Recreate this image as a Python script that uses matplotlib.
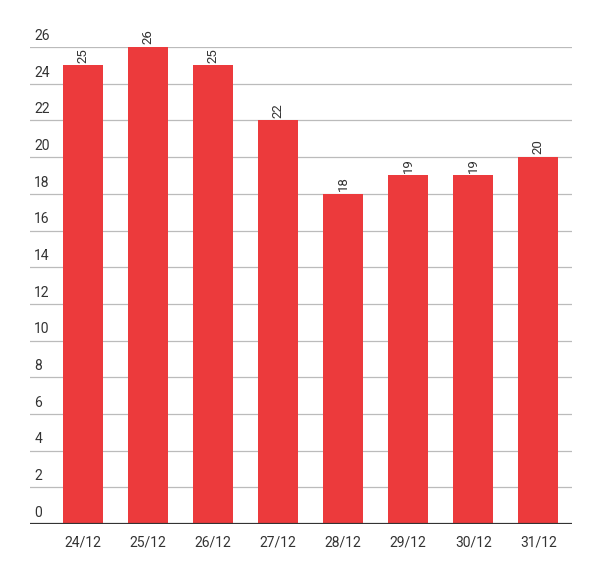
import matplotlib.pyplot as plt
from matplotlib.transforms import blended_transform_factory, offset_copy

plt.rcParams["font.family"] = ["Roboto", "DejaVu Sans"]

dates = ["24/12", "25/12", "26/12", "27/12", "28/12", "29/12", "30/12", "31/12"]
values = [25, 26, 25, 22, 18, 19, 19, 20]
yticks = list(range(0, 27, 2))

RED = "#EC3A3C"
TEXT = "#333333"

fig = plt.figure(figsize=(6.03, 5.67), dpi=100)
ax = fig.add_axes([0.0498, 0.0758, 0.899, 0.8412])

xs = list(range(len(dates)))
ax.bar(xs, values, width=0.62, color=RED, zorder=2)
ax.set_xlim(-0.815, 7.52)
ax.set_ylim(0, 26)

for y in yticks[1:]:
    ax.axhline(y, color="#BBBBBB", lw=0.9, zorder=1)
ax.axhline(0, color="#333333", lw=1.6, zorder=3)

trans = offset_copy(blended_transform_factory(ax.transAxes, ax.transData), fig=fig, x=3, y=3, units="points")
for y in yticks:
    ax.text(0, y, str(y), transform=trans, ha="left", va="bottom", fontsize=10, color=TEXT)

for x, v in zip(xs, values):
    ax.annotate(str(v), (x, v), xytext=(0, 2), textcoords="offset points", rotation=90,
                ha="center", va="bottom", fontsize=9.5, color=TEXT, annotation_clip=False)

ax.set_xticks(xs)
ax.set_xticklabels(dates, fontsize=10, color=TEXT)
ax.tick_params(axis="x", length=0, pad=8)
ax.set_yticks([])
for s in ax.spines.values():
    s.set_visible(False)

fig.savefig("out.png", dpi=100)
